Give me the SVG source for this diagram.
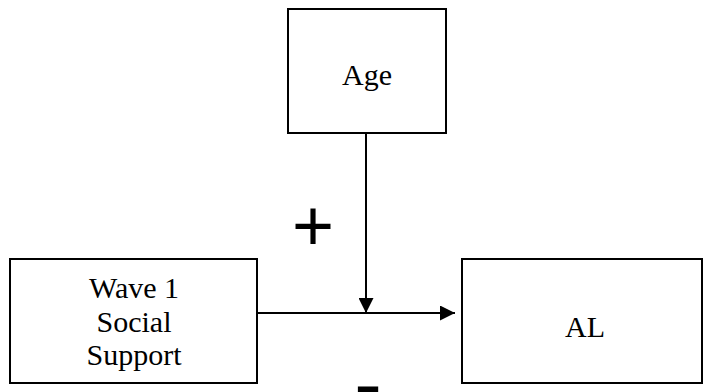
<svg xmlns="http://www.w3.org/2000/svg" width="703" height="392" viewBox="0 0 703 392">
  <style>
    .box { fill: #fff; stroke: #000; stroke-width: 2; }
    .lbl { font-family: "Liberation Serif", "Times New Roman", serif; font-size: 30px; fill: #000; text-anchor: middle; }
    .sign { font-family: "Liberation Sans", Arial, sans-serif; fill: #000; text-anchor: middle; }
    .conn { stroke: #000; stroke-width: 2; fill: none; }
  </style>
  <defs>
    <marker id="arrow" viewBox="0 0 15 15" refX="15" refY="7.5" markerWidth="15" markerHeight="15" markerUnits="userSpaceOnUse" orient="auto">
      <path d="M0,0 L15,7.5 L0,15 Z" fill="#000"/>
    </marker>
  </defs>

  <g id="age">
    <rect class="box" x="288" y="9" width="158" height="124"/>
    <text class="lbl" x="367" y="85">Age</text>
  </g>

  <g id="social-support">
    <rect class="box" x="10" y="259" width="247" height="124"/>
    <text class="lbl" x="134" y="298">Wave 1</text>
    <text class="lbl" x="134" y="332">Social</text>
    <text class="lbl" x="134" y="365">Support</text>
  </g>

  <g id="al">
    <rect class="box" x="462" y="259" width="240" height="124"/>
    <text class="lbl" x="585" y="337">AL</text>
  </g>

  <g id="connectors">
    <line class="conn" x1="257" y1="313" x2="455" y2="313" marker-end="url(#arrow)"/>
    <line class="conn" x1="366" y1="133" x2="366" y2="313" marker-end="url(#arrow)"/>
  </g>

  <g id="signs">
    <text class="sign" x="313" y="250" font-size="72">+</text>
    <text class="sign" x="368" y="412" font-size="80" font-weight="bold">-</text>
  </g>
</svg>
